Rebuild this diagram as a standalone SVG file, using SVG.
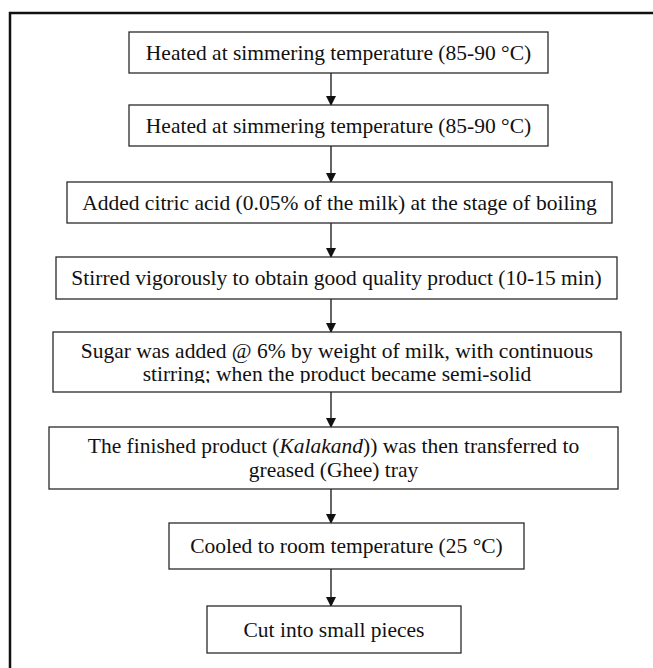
<svg xmlns="http://www.w3.org/2000/svg" width="653" height="668" viewBox="0 0 653 668">
<style>
.box{fill:#fff;stroke:#2a2a2a;stroke-width:1.3}
.t{font-family:"Liberation Serif","Times New Roman",serif;font-size:21.5px;fill:#111;text-anchor:middle}
.c{stroke:#111;stroke-width:1.3;fill:none;marker-end:url(#ah)}
.frame{fill:none;stroke:#111;stroke-width:2.5}
</style>
<defs>
<marker id="ah" markerWidth="10" markerHeight="12" refX="9" refY="5" orient="auto" markerUnits="userSpaceOnUse" viewBox="0 0 10 10">
<path d="M0,0 L10,5 L0,10 Z" fill="#111"/>
</marker>
<clipPath id="clip5"><rect x="53" y="332" width="568" height="51"/></clipPath>
</defs>
<rect width="653" height="668" fill="#fff"/>
<path class="frame" d="M10,668 V13 H653"/>
<g id="connectors">
<line class="c" x1="331" y1="73" x2="331" y2="105"/>
<line class="c" x1="331" y1="146" x2="331" y2="182"/>
<line class="c" x1="331" y1="223" x2="331" y2="257"/>
<line class="c" x1="331" y1="299" x2="331" y2="332"/>
<line class="c" x1="331" y1="392" x2="331" y2="427"/>
<line class="c" x1="331" y1="489" x2="331" y2="523"/>
<line class="c" x1="331" y1="569" x2="331" y2="606"/>
</g>
<g id="n1"><rect class="box" x="129" y="32" width="419" height="41"/><text class="t" x="338.5" y="59.5">Heated at simmering temperature (85-90 °C)</text></g>
<g id="n2"><rect class="box" x="129" y="105" width="419" height="41"/><text class="t" x="338.5" y="132.5">Heated at simmering temperature (85-90 °C)</text></g>
<g id="n3"><rect class="box" x="67" y="182" width="545" height="41"/><text class="t" x="339.5" y="209.5">Added citric acid (0.05% of the milk) at the stage of boiling</text></g>
<g id="n4"><rect class="box" x="56" y="257" width="561" height="42"/><text class="t" x="336.5" y="285">Stirred vigorously to obtain good quality product (10-15 min)</text></g>
<g id="n5"><rect class="box" x="53" y="332" width="568" height="60"/><g clip-path="url(#clip5)"><text class="t" x="337" y="357.5">Sugar was added @ 6% by weight of milk, with continuous</text><text class="t" x="337" y="380.5">stirring; when the product became semi-solid</text></g></g>
<g id="n6"><rect class="box" x="49" y="427" width="569" height="62"/><text class="t" x="333.5" y="453">The finished product (<tspan font-style="italic">Kalakand</tspan>)) was then transferred to</text><text class="t" x="333.5" y="477">greased (Ghee) tray</text></g>
<g id="n7"><rect class="box" x="169" y="523" width="355" height="46"/><text class="t" x="346.5" y="553">Cooled to room temperature (25 °C)</text></g>
<g id="n8"><rect class="box" x="207" y="606" width="254" height="47"/><text class="t" x="334" y="636.5">Cut into small pieces</text></g>
</svg>
